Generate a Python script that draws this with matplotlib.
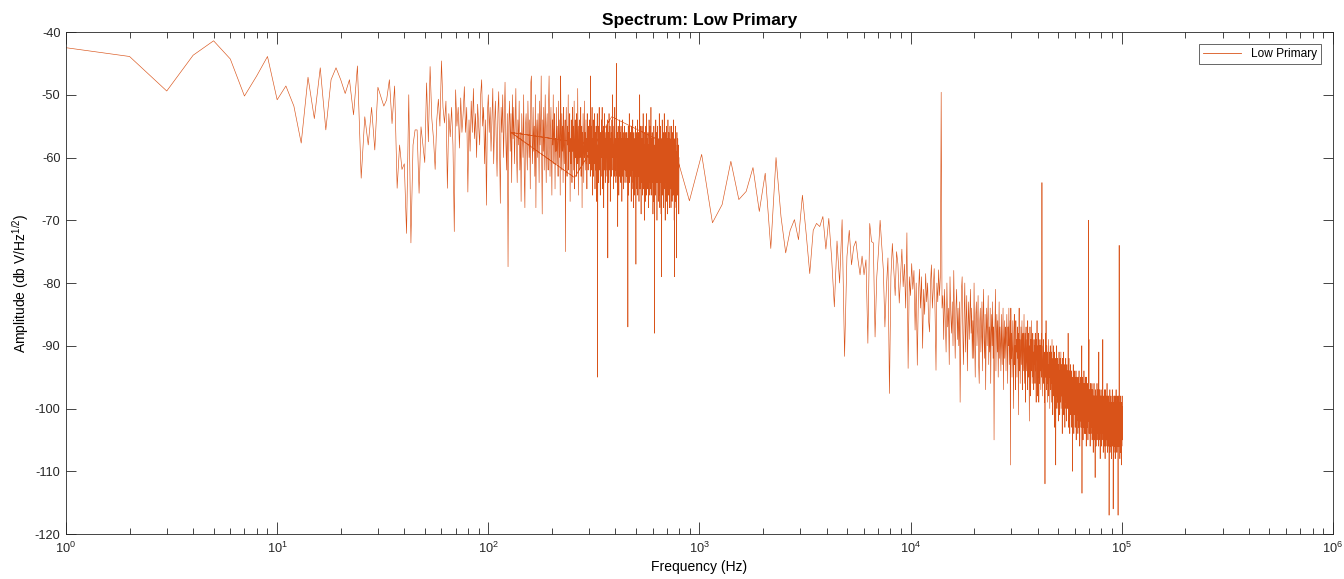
import numpy as np
import matplotlib
matplotlib.use('Agg')
import matplotlib.pyplot as plt
from matplotlib.ticker import LogLocator, FuncFormatter, NullFormatter

plt.rcParams['font.family'] = ['Liberation Sans', 'DejaVu Sans']
plt.rcParams['axes.unicode_minus'] = False
plt.rcParams['mathtext.fontset'] = 'custom'
plt.rcParams['mathtext.rm'] = 'Liberation Sans'
plt.rcParams['mathtext.it'] = 'Liberation Sans:italic'
plt.rcParams['mathtext.default'] = 'regular'

# low band: 1 Hz bins starting at 1 Hz (dB V/Hz^1/2)
amp_low = [
    -42.5, -43.9, -49.4, -43.7, -41.4, -44.3, -50.2, -47.0, -43.9, -50.8, -48.6, -51.8, -57.7, -47.2, -53.8, -45.7, -55.6, -47.6, -45.7, -47.6,
    -49.8, -47.6, -53.2, -45.4, -63.3, -53.5, -58.0, -52.0, -58.8, -48.8, -50.3, -51.8, -50.8, -47.6, -54.6, -48.6, -64.9, -58.0, -61.9, -61.0,
    -72.1, -50.0, -73.6, -58, -55.6, -55.6, -65.7, -55.1, -58, -60.8, -48.1, -57.5, -45.5, -53.8, -57, -61.9, -54, -50.7, -55, -44.6,
    -52, -54.5, -51, -64.9, -53, -56.7, -52, -58, -71.8, -49.2, -55, -52, -58.5, -50.5, -56, -53, -48.7, -56, -52, -65.5,
    -54, -59, -51, -56, -49, -57, -53, -60, -51.5, -55, -58, -50, -47.6, -55, -52, -61, -54, -67.6, -53, -50,
    -56, -52, -59, -54, -49, -61, -55, -51, -57, -63, -53, -49.5, -58, -67.3, -52, -56, -50, -60, -54, -48,
    -57, -62, -53, -77.4, -55, -51, -59, -53, -64, -50,
    -57, -52, -61, -55, -49, -59, -64, -54, -58, -51, -62, -56, -67, -53, -57, -60, -50, -63, -68, -55,
    -53, -58, -62, -51, -56, -60, -54, -65, -48, -47, -57, -61, -52, -59, -55, -63, -50, -68, -56, -54,
    -60, -53, -57, -64, -51, -58, -55, -47, -61, -69, -54, -59, -52, -62, -56, -50, -58, -64, -55, -53,
    -59, -62, -51, -47, -57, -63, -55, -52, -60, -66, -54, -58, -50, -61, -56, -53, -65, -57, -59, -52,
    -61, -55, -58, -63, -51, -57, -60, -54, -66, -47, -56, -62, -53, -59, -55, -64, -52, -58, -61, -56,
    -54, -75, -57, -52, -60, -63, -55, -58, -50, -62, -56, -59, -53, -67, -57, -61, -54, -58, -64, -52,
    -59, -55, -62, -57, -51, -65, -58, -54, -60, -56, -63, -53, -58, -61, -49, -57, -66, -55, -59, -62,
    -54, -60, -57, -52, -63, -58, -55, -68, -56, -61, -53, -59, -64, -57, -51, -60, -56, -62, -58, -54,
    -61, -57, -65, -53, -59, -56, -62, -55, -60, -58,
    -54, -61, -57, -63, -47, -59, -55, -62, -58, -52, -66, -57, -60, -54, -63, -58, -56, -61, -53, -65,
    -59, -56, -62, -55, -60, -67, -57, -53, -95, -61, -58, -64, -55, -59, -52, -62, -57, -60, -66, -56,
    -58, -63, -54, -60, -57, -52, -65, -59, -56, -61, -55, -68, -58, -62, -53, -60, -57, -64, -56, -59,
    -62, -55, -60, -57, -63, -54, -59, -76, -58, -61, -56, -64, -53, -60, -58, -62, -55, -67, -59, -57,
    -61, -56, -63, -58, -54, -60, -57, -50, -62, -59, -55, -65, -58, -61, -56, -63, -52, -60, -58, -62,
    -57, -64, -55, -45, -60, -58, -63, -56, -61, -71, -59, -55, -62, -58, -66, -57, -60, -54, -63, -59,
    -56, -61, -58, -64, -55, -60, -62, -57, -67, -59, -54, -61, -58, -63, -56, -60, -65, -57, -62, -59,
    -55, -61, -58, -64, -57, -60, -62, -56, -59, -63,
    -58, -61, -56, -64, -60, -57, -63, -87, -59, -55, -62, -66, -58, -61, -53, -60, -64, -57, -62, -59,
    -56, -63, -60, -58, -67, -55, -61, -64, -59, -57, -62, -60, -54, -65, -58, -61, -68, -59, -56, -63,
    -60, -57, -66, -61, -58, -63, -59, -55, -62, -77, -60, -57, -64, -61, -56, -65, -59, -62, -54, -66,
    -60, -58, -63, -56, -61, -59, -67, -57, -62, -60, -50, -58, -65, -61, -55, -63, -59, -62, -69, -57,
    -64, -58, -61, -55, -63, -60, -66, -59, -57, -62, -53, -58, -65, -61, -56, -63, -60, -70, -58, -62,
    -59, -56, -64, -61, -60, -67, -55, -62, -58, -66, -60, -53, -63, -57, -61, -65, -58, -62, -60, -56,
    -63, -61, -59, -68, -58, -62, -54, -57, -64, -61, -59, -66, -55, -62, -60, -58, -65, -61, -52, -63,
    -57, -62, -60, -66, -58, -61, -56, -64, -59, -62, -60, -69, -63, -57, -67, -59, -62, -55, -57, -64,
    -61, -59, -88, -62, -58, -65, -60, -66, -57, -62, -54, -59, -64, -60, -58, -63, -61, -56, -70, -60,
    -62, -59, -55, -64, -58, -63, -60, -67, -59, -62, -57, -61, -66, -60, -53, -64, -62, -59, -68, -61,
    -58, -64, -60, -62, -55, -63, -61, -69, -59, -62, -57, -79, -58, -64, -61, -54, -63, -60, -66, -58,
    -62, -60, -56, -64, -61, -59, -68, -62, -58, -65, -53, -61, -59, -64, -57, -62, -60, -70, -58, -63,
    -61, -56, -64, -60, -62, -58, -67, -61, -55, -63, -60, -57, -65, -62, -59, -61, -69, -60, -54, -63,
    -61, -59, -66, -62, -60, -56, -64, -61, -57, -68, -60, -63, -59, -62, -55, -58, -65, -60, -63, -59,
    -62, -60, -68, -57, -63, -61, -55, -65, -60, -62, -58, -67, -61, -59, -64, -60, -56, -66, -62, -60,
    -59, -64, -61, -54, -63, -60, -66, -59, -70, -61, -79, -60, -63, -57, -62, -61, -67, -59, -55, -64,
    -61, -58, -63, -60, -68, -59, -65, -61, -76, -60, -63, -56, -62, -66, -60, -59, -65, -61, -57, -62,
    -60, -66, -59, -61, -64, -58, -62, -69, -61, -60,
]

# high band: 128 Hz bins starting at 128 Hz (dB V/Hz^1/2)
bin_high = 128
amp_high = [
    -56.0, -63.2, -53.5, -55.6, -57.2, -59.0,
    -66.9, -59.5, -70.4, -67.5, -60.6, -66.7, -65.4, -61.6, -68.6, -62.5, -74.5, -60.0, -69.4, -75.2,
    -71.6, -69.9, -73.1, -66.0, -72.1, -78.5, -71.6, -70.5, -71.0, -69.4, -74.6, -69.7,
    -76, -83.8, -73.3, -80, -69.9, -91.7, -75.8, -71.6, -77.1, -74.2, -73.3, -76.3, -78.7, -75.7, -78.7, -76.3,
    -89.6, -70.5, -73.4, -73.6, -88.6, -79, -75, -70,
    -74, -77.9, -87, -80.6, -76, -97.6, -79, -73.7, -78, -82, -75, -77, -83.2, -79, -74.6, -80.6,
    -77, -84, -72, -93.6, -79, -82, -76.9, -81, -78, -87.5, -80, -93.1, -82, -77.8, -84, -79,
    -90.4, -81, -85, -78.5, -83, -80, -86, -87.8, -80, -77.1, -84, -81, -77.7, -85, -93.9, -80,
    -83, -77.9, -82, -79, -49.6, -84,
    -82, -89, -81, -86, -91, -80, -87, -84, -93, -79, -85, -88, -83, -90, -78, -86, -92, -84, -81, -89,
    -84, -90, -83, -99, -87, -81, -79, -88, -93, -85, -80, -91, -86, -82, -94, -87, -83, -89, -85, -81,
    -88, -84, -92, -86, -92, -80, -89, -95, -85, -83, -90, -87, -82, -93, -96, -86, -84, -91, -88, -83,
    -94, -86, -81, -89, -92, -85, -97, -88, -84, -90,
    -86, -82, -93, -87, -91, -84, -96, -88, -85, -90, -83, -92, -87, -105, -89, -86, -81, -94, -88, -85,
    -91, -86, -95, -89, -83, -92, -87, -90, -94, -85, -89, -93, -88, -84, -97, -90, -86, -92, -89, -87,
    -94, -88, -85, -91, -96, -87, -90, -84, -93, -89, -86, -109, -84, -92, -88, -95, -90, -86, -93, -100,
    -88, -85, -93, -90, -97, -86, -91, -89, -95, -87, -92, -88, -101, -90, -84, -94, -89, -96, -91, -87,
    -93, -89, -86, -97, -91, -88, -94, -90, -85, -96, -92, -88, -99, -90, -87, -94, -91, -89, -97, -86,
    -92, -88, -95, -90, -102, -93, -87, -91, -98, -89, -94, -86, -92, -96, -90, -88, -95, -91, -97, -89,
    -93, -90, -96, -88, -94, -91, -99, -89, -92, -86, -98, -93, -90, -95, -88, -99, -92, -90, -96, -89,
    -94, -90, -97, -92, -88, -95, -64, -91, -98, -93, -90, -96, -89, -94, -92, -99, -91, -112, -93, -88,
    -95, -86, -93, -97, -90, -94, -99, -91, -96, -92, -89, -98, -93, -95, -91, -100, -94, -90, -97, -93,
    -96, -91, -99, -94, -89, -97, -93, -101, -92, -95, -90, -98, -94, -96, -91, -103, -95, -92, -97, -109,
    -93, -98, -95, -90, -100, -94, -97, -92, -99, -95, -102, -93, -96, -91, -98, -94, -101, -96, -92, -99,
    -95, -91, -100, -96, -93, -98, -95, -104, -92, -97, -94, -99, -96, -91, -101, -95, -98, -93, -97, -103,
    -94, -99, -96, -92, -100, -97, -95, -102, -93, -98, -96, -100, -94, -99, -88, -96, -103, -95, -92, -99,
    -97, -94, -104, -96, -99, -93, -101, -97, -95, -100, -98, -94, -103, -96, -99, -110, -95, -101, -97, -93,
    -100, -96, -104, -98, -94, -101, -97, -99, -95, -103, -98, -96, -100, -94, -105, -97, -99, -102, -95, -98,
    -101, -96, -99, -104, -95, -100, -97, -103, -98, -94, -101, -99, -96, -106, -98, -100, -95, -102, -97, -99,
    -103, -96, -100, -98, -90, -113.5, -99, -95, -102, -97, -101, -105, -96, -99, -103, -98, -94, -100, -97, -104,
    -99, -96, -102, -100, -95, -104, -98, -101, -97, -106, -99, -95, -102, -98, -100, -103, -96, -101, -99, -105,
    -97, -102, -70, -100, -96, -89, -104, -99, -101, -97, -103, -98, -106, -100, -96, -102, -99, -104, -97, -101,
    -103, -98, -100, -96, -105, -101, -99, -103, -97, -102, -100, -107, -98, -101, -104, -99, -96, -103, -100, -102,
    -98, -105, -101, -111, -99, -103, -97, -102, -100, -106, -98, -101, -104, -99, -102, -96, -105, -100, -103, -99,
    -102, -97, -104, -100, -106, -99, -101, -91, -103, -98, -100, -105, -101, -97, -103, -99, -108, -100, -102, -98,
    -104, -100, -97, -103, -101, -106, -99, -102, -98, -105, -100, -103, -97, -101, -89, -104, -100, -107, -99, -102,
    -98, -104, -101, -106, -99, -102, -97, -105, -100, -103, -108, -99, -101, -97, -104, -102, -100, -106, -98, -103,
    -100, -105, -99, -102, -96, -104, -101, -107, -99, -103, -100, -98, -105, -102, -100, -106, -98, -103, -101, -117,
    -102, -99, -105, -100, -103, -97, -107, -101, -104, -99, -102, -106, -100, -98, -104, -101, -108, -99, -103, -100,
    -105, -99, -102, -97, -104, -101, -106, -100, -103, -98, -116, -102, -100, -105, -99, -103, -107, -100, -102, -98,
    -104, -100, -106, -101, -98, -103, -108, -100, -102, -105, -99, -104, -101, -97, -106, -102, -100, -104, -99, -107,
    -101, -104, -98, -103, -100, -106, -102, -99, -105, -117, -101, -103, -98, -106, -100, -104, -102, -99, -74, -105,
    -101, -106, -99, -103, -108, -100, -104, -102, -98, -105, -101, -107, -100, -103, -99, -106, -102, -109, -101, -104,
    -100, -106, -102, -98, -105, -101, -103, -99.7,
]

freq_low = np.arange(1, len(amp_low) + 1)
freq_high = bin_high * np.arange(1, len(amp_high) + 1)

freq = np.concatenate([freq_low, freq_high])
amp = np.concatenate([amp_low, amp_high])

axis_color = '0.15'

fig = plt.figure(figsize=(13.44, 5.79), dpi=100)
ax = fig.add_axes([0.0491, 0.0777, 0.9427, 0.867])

ax.plot(freq, amp, color='#D95319', linewidth=0.45, label='Low Primary')

ax.set_xscale('log')
ax.set_xlim(1, 1e6)
ax.set_ylim(-120, -40)
ax.set_yticks(np.arange(-120, -39, 10))
ax.xaxis.set_major_locator(LogLocator(base=10, numticks=10))
ax.xaxis.set_minor_locator(LogLocator(base=10, subs=np.arange(2, 10), numticks=100))
ax.xaxis.set_major_formatter(FuncFormatter(lambda v, p: r'$10^{%d}$' % round(np.log10(v))))
ax.xaxis.set_minor_formatter(NullFormatter())

ax.tick_params(axis='both', which='both', direction='in', top=True, right=True,
               colors=axis_color, labelcolor='0.15', labelsize=9.2, width=0.6)
ax.tick_params(axis='x', which='major', length=8.5, pad=5)
ax.tick_params(axis='x', which='minor', length=4.5)
ax.tick_params(axis='y', which='major', length=7, pad=4)
for side in ax.spines.values():
    side.set_color(axis_color)
    side.set_linewidth(0.6)

ax.set_title('Spectrum: Low Primary', fontsize=12.5, fontweight='bold', pad=5)
ax.set_xlabel('Frequency (Hz)', fontsize=10, labelpad=3)
ax.set_ylabel('Amplitude (db V/Hz$^{1/2}$)', fontsize=10, labelpad=3)

leg = ax.legend(loc='upper right', fontsize=8.6, fancybox=False, framealpha=1,
                edgecolor='0.3', handlelength=3.2, borderaxespad=1.0,
                borderpad=0.35)
leg.get_frame().set_linewidth(0.6)
leg.get_lines()[0].set_linewidth(0.6)

fig.savefig('out.png', dpi=100)
